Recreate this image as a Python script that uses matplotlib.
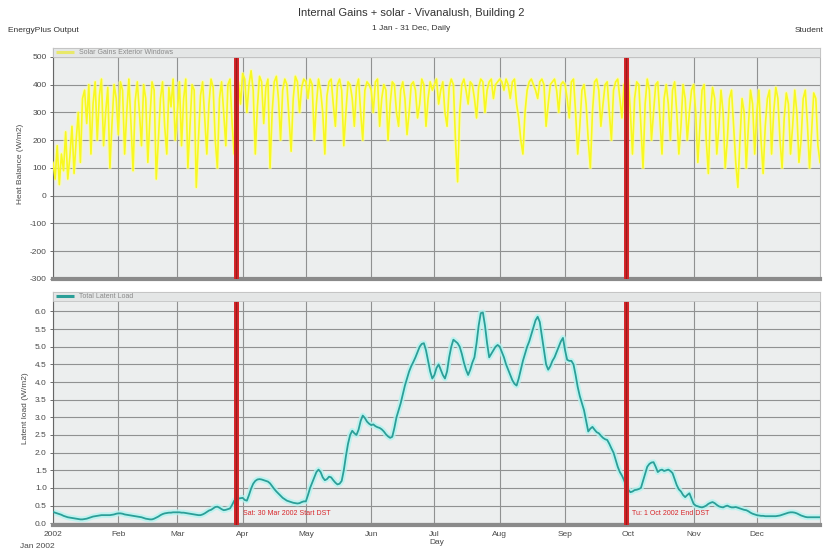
import matplotlib
matplotlib.use("Agg")
import matplotlib.pyplot as plt
import matplotlib.dates as mdates
from matplotlib.patches import Rectangle
import pandas as pd

# ---- daily series, 2002 ----
solar_jan = [120, 60, 180, 40, 150, 90, 230, 60, 140, 250, 80, 200, 300, 120, 350, 380, 260, 400, 150, 330,
             410, 200, 360, 420, 180, 300, 390, 100, 260, 400, 350]
solar_feb = [220, 410, 380, 150, 300, 420, 260, 90, 340, 410, 300, 180, 400, 350, 120, 280, 410, 380, 60, 200,
             350, 410, 250, 150, 390, 320, 420, 200]
solar_mar = [300, 410, 180, 350, 420, 100, 250, 400, 380, 30, 200, 360, 410, 280, 150, 330, 420, 390, 200, 100,
             350, 410, 300, 180, 400, 420, 260, 150, 380, 410, 330]
solar_apr = [440, 420, 300, 400, 450, 380, 150, 320, 430, 410, 260, 390, 420, 100, 300, 410, 430, 350, 200, 380,
             420, 400, 280, 160, 350, 430, 410, 300, 390, 420]
solar_may = [410, 350, 420, 400, 200, 330, 420, 380, 300, 150, 360, 410, 420, 330, 250, 400, 420, 380, 180, 300,
             410, 400, 350, 250, 390, 420, 300, 200, 380, 410, 400]
solar_jun = [380, 300, 410, 420, 250, 350, 400, 380, 200, 330, 410, 400, 300, 250, 380, 410, 350, 220, 300, 400,
             410, 380, 280, 330, 420, 400, 250, 350, 410, 380]
solar_jul = [400, 420, 330, 380, 410, 300, 250, 390, 420, 400, 200, 50, 300, 400, 420, 380, 330, 410, 400, 350,
             280, 390, 420, 410, 300, 380, 410, 420, 350, 400, 410]
solar_aug = [420, 410, 380, 420, 400, 350, 410, 420, 330, 280, 200, 150, 300, 380, 410, 420, 400, 380, 350, 410,
             420, 400, 250, 330, 400, 410, 420, 380, 300, 400, 410]
solar_sep = [400, 350, 280, 410, 420, 300, 150, 250, 380, 400, 330, 200, 100, 300, 410, 420, 380, 250, 330, 400,
             410, 300, 200, 380, 410, 420, 350, 280, 400, 410]
solar_oct = [420, 300, 150, 350, 410, 400, 250, 100, 330, 420, 380, 200, 300, 400, 410, 280, 150, 350, 400, 330,
             200, 380, 410, 300, 150, 250, 400, 350, 200, 300, 380]
solar_nov = [400, 300, 120, 250, 380, 400, 200, 80, 300, 390, 350, 150, 250, 380, 300, 100, 200, 350, 380, 250,
             120, 30, 200, 350, 300, 100, 250, 380, 330, 150]
solar_dec = [300, 380, 200, 80, 250, 350, 380, 150, 300, 390, 350, 200, 100, 280, 370, 330, 150, 250, 380, 300,
             120, 200, 350, 380, 260, 100, 230, 370, 350, 180, 120]

latent_jan = [0.32, 0.30, 0.28, 0.26, 0.24, 0.21, 0.19, 0.17, 0.16, 0.15, 0.14, 0.13, 0.12, 0.11, 0.11, 0.12,
              0.13, 0.15, 0.17, 0.19, 0.20, 0.21, 0.22, 0.23, 0.23, 0.23, 0.23, 0.23, 0.24, 0.25, 0.27]
latent_feb = [0.28, 0.28, 0.27, 0.25, 0.24, 0.23, 0.22, 0.21, 0.20, 0.19, 0.18, 0.17, 0.15, 0.13, 0.12, 0.11,
              0.11, 0.13, 0.16, 0.19, 0.23, 0.26, 0.28, 0.29, 0.30, 0.30, 0.31, 0.31]
latent_mar = [0.31, 0.31, 0.30, 0.30, 0.29, 0.28, 0.27, 0.26, 0.25, 0.24, 0.23, 0.23, 0.25, 0.28, 0.32, 0.36,
              0.38, 0.42, 0.46, 0.47, 0.44, 0.40, 0.37, 0.38, 0.40, 0.42, 0.52, 0.64, 0.68, 0.70, 0.71]
latent_apr = [0.72, 0.66, 0.64, 0.80, 0.98, 1.12, 1.20, 1.24, 1.25, 1.24, 1.22, 1.20, 1.18, 1.13, 1.05, 0.97,
              0.90, 0.84, 0.78, 0.72, 0.68, 0.64, 0.62, 0.60, 0.58, 0.57, 0.56, 0.57, 0.60, 0.62]
latent_may = [0.62, 0.80, 1.00, 1.15, 1.30, 1.45, 1.52, 1.45, 1.30, 1.22, 1.25, 1.32, 1.30, 1.22, 1.15, 1.10,
              1.12, 1.20, 1.50, 1.90, 2.25, 2.50, 2.62, 2.55, 2.50, 2.65, 2.90, 3.05, 2.98, 2.88, 2.82]
latent_jun = [2.78, 2.80, 2.75, 2.72, 2.70, 2.66, 2.60, 2.52, 2.46, 2.42, 2.45, 2.70, 3.00, 3.20, 3.40, 3.65,
              3.90, 4.10, 4.30, 4.45, 4.57, 4.70, 4.85, 5.00, 5.08, 5.10, 4.90, 4.60, 4.30, 4.10]
latent_jul = [4.20, 4.40, 4.50, 4.35, 4.20, 4.10, 4.30, 4.70, 5.00, 5.20, 5.15, 5.10, 5.00, 4.80, 4.55, 4.35,
              4.20, 4.35, 4.55, 4.70, 5.10, 5.60, 5.95, 5.97, 5.60, 5.10, 4.70, 4.80, 4.90, 5.00, 5.05]
latent_aug = [5.00, 4.85, 4.70, 4.50, 4.35, 4.20, 4.05, 3.95, 3.90, 4.10, 4.35, 4.60, 4.80, 5.00, 5.15, 5.35,
              5.55, 5.75, 5.85, 5.70, 5.30, 4.90, 4.50, 4.35, 4.45, 4.60, 4.70, 4.85, 5.00, 5.15, 5.25]
latent_sep = [4.90, 4.63, 4.60, 4.60, 4.50, 4.20, 3.86, 3.60, 3.40, 3.20, 2.90, 2.60, 2.68, 2.73, 2.65, 2.58,
              2.55, 2.48, 2.42, 2.38, 2.36, 2.25, 2.12, 2.00, 1.80, 1.60, 1.45, 1.35, 1.22, 1.05]
latent_oct = [0.95, 0.88, 0.90, 0.94, 0.95, 0.97, 1.00, 1.20, 1.40, 1.60, 1.68, 1.72, 1.73, 1.60, 1.45, 1.50,
              1.52, 1.48, 1.50, 1.52, 1.48, 1.42, 1.25, 1.08, 0.96, 0.90, 0.80, 0.74, 0.80, 0.85, 0.70]
latent_nov = [0.55, 0.50, 0.48, 0.46, 0.45, 0.47, 0.50, 0.55, 0.58, 0.60, 0.57, 0.52, 0.48, 0.46, 0.45, 0.48,
              0.50, 0.47, 0.45, 0.45, 0.46, 0.44, 0.42, 0.40, 0.38, 0.37, 0.34, 0.30, 0.27, 0.25]
latent_dec = [0.23, 0.22, 0.21, 0.21, 0.20, 0.20, 0.20, 0.20, 0.20, 0.20, 0.21, 0.22, 0.24, 0.26, 0.28, 0.30,
              0.31, 0.31, 0.30, 0.28, 0.25, 0.22, 0.20, 0.18, 0.17, 0.17, 0.17, 0.17, 0.17, 0.17, 0.17]

solar_gains = (solar_jan + solar_feb + solar_mar + solar_apr + solar_may + solar_jun +
               solar_jul + solar_aug + solar_sep + solar_oct + solar_nov + solar_dec)
latent_load = (latent_jan + latent_feb + latent_mar + latent_apr + latent_may + latent_jun +
               latent_jul + latent_aug + latent_sep + latent_oct + latent_nov + latent_dec)

days = pd.date_range("2002-01-01", "2002-12-31", freq="D")
month_labels = ["2002", "Feb", "Mar", "Apr", "May", "Jun", "Jul", "Aug", "Sep", "Oct", "Nov", "Dec"]
heat_ticks = [-300, -200, -100, 0, 100, 200, 300, 400, 500]
latent_ticks = [0.0, 0.5, 1.0, 1.5, 2.0, 2.5, 3.0, 3.5, 4.0, 4.5, 5.0, 5.5, 6.0]
dst_start = pd.Timestamp("2002-03-29")
dst_end = pd.Timestamp("2002-09-30")

TXT = "#4a4a4a"
plt.rcParams["font.family"] = ["Liberation Sans", "DejaVu Sans"]

fig = plt.figure(figsize=(8.23, 5.54), dpi=100)
fig.patch.set_facecolor("white")

ax1 = fig.add_axes([0.0644, 0.4964, 0.932, 0.417])
ax2 = fig.add_axes([0.0644, 0.0523, 0.932, 0.4206])

for ax in (ax1, ax2):
    ax.set_facecolor("#eceeee")
    ax.set_xlim(days[0], days[-1])
    ax.xaxis.set_major_locator(mdates.MonthLocator())
    ax.grid(True, color="#909191", linewidth=0.8)
    ax.set_axisbelow(True)
    for side in ("top", "right"):
        ax.spines[side].set_color("#b8b8b8")
        ax.spines[side].set_linewidth(0.8)
    ax.spines["left"].set_color("#666666")
    ax.spines["left"].set_linewidth(0.8)
    ax.spines["bottom"].set_color("#8a8a8a")
    ax.spines["bottom"].set_linewidth(3.0)
    ax.tick_params(axis="y", labelsize=6, colors="#555555", length=2.5, width=0.6, pad=2)
    ax.tick_params(axis="y", labelcolor=TXT)
    ax.tick_params(axis="x", length=0)

# ---- upper panel: solar gains ----
ax1.set_ylim(-300, 532)
ax1.set_yticks(heat_ticks)
ax1.set_yticklabels([str(v) for v in heat_ticks])
ax1.set_xticklabels([])
ax1.plot(days, solar_gains, color="#ffffa0", linewidth=2.8, alpha=0.6, zorder=2)
ax1.plot(days, solar_gains, color="#f8f820", linewidth=1.2, zorder=3)
ax1.set_ylabel("Heat Balance (W/m2)", fontsize=6, color=TXT, labelpad=4)

# ---- lower panel: latent load ----
ax2.set_ylim(-0.05, 6.55)
ax2.set_yticks(latent_ticks)
ax2.set_yticklabels([f"{v:.1f}" for v in latent_ticks])
ax2.set_xticklabels(month_labels)
ax2.tick_params(axis="x", labelsize=6, labelcolor=TXT, pad=4)
ax2.plot(days, latent_load, color="#b4f4f0", linewidth=4.2, alpha=0.8, zorder=2)
ax2.plot(days, latent_load, color="#2b9f98", linewidth=1.3, zorder=3)
ax2.set_ylabel("Latent load (W/m2)", fontsize=6, color=TXT, labelpad=4)
ax2.set_xlabel("Day", fontsize=6, color=TXT, labelpad=1)

# ---- DST markers ----
for ax in (ax1, ax2):
    for d in (dst_start, dst_end):
        ax.axvline(d, ymin=0, ymax=0.97, color="#d8262a", linewidth=3.6, zorder=4)
        ax.axvline(d, ymin=0, ymax=0.97, color="#9a1c1c", linewidth=1.0, zorder=5)

ax2.text(dst_start + pd.Timedelta(days=3), 0.28, "Sat: 30 Mar 2002 Start DST",
         fontsize=5, color="#d8262a", va="center", ha="left", zorder=6)
ax2.text(dst_end + pd.Timedelta(days=3), 0.28, "Tu: 1 Oct 2002 End DST",
         fontsize=5, color="#d8262a", va="center", ha="left", zorder=6)

# ---- legend bands across the top of each panel ----
def legend_band(ax, color, label):
    ax.add_patch(Rectangle((0, 0.962), 1, 0.038, transform=ax.transAxes,
                           facecolor="#e4e6e6", edgecolor="#c4c4c4", linewidth=0.6,
                           zorder=6, clip_on=False))
    ax.plot([0.004, 0.028], [0.981, 0.981], transform=ax.transAxes, color=color,
            linewidth=2.2, zorder=7, solid_capstyle="butt")
    ax.text(0.034, 0.981, label, transform=ax.transAxes, fontsize=5,
            color="#8a8a8a", va="center", ha="left", zorder=7)

legend_band(ax1, "#e8e86a", "Solar Gains Exterior Windows")
legend_band(ax2, "#2b9f98", "Total Latent Load")

# ---- headings ----
fig.text(0.5, 1 - 13 / 554, "Internal Gains + solar - Vivanalush, Building 2",
         fontsize=8, color="#333333", ha="center", va="center")
fig.text(0.5, 1 - 29 / 554, "1 Jan - 31 Dec, Daily",
         fontsize=6, color="#333333", ha="center", va="center")
fig.text(8 / 823, 1 - 30 / 554, "EnergyPlus Output",
         fontsize=6, color="#333333", ha="left", va="center")
fig.text(795 / 823, 1 - 30 / 554, "Student",
         fontsize=6, color="#333333", ha="left", va="center")
fig.text(37 / 823, 1 - 547 / 554, "Jan 2002",
         fontsize=6, color=TXT, ha="center", va="center")

fig.savefig("out.png", dpi=100)
